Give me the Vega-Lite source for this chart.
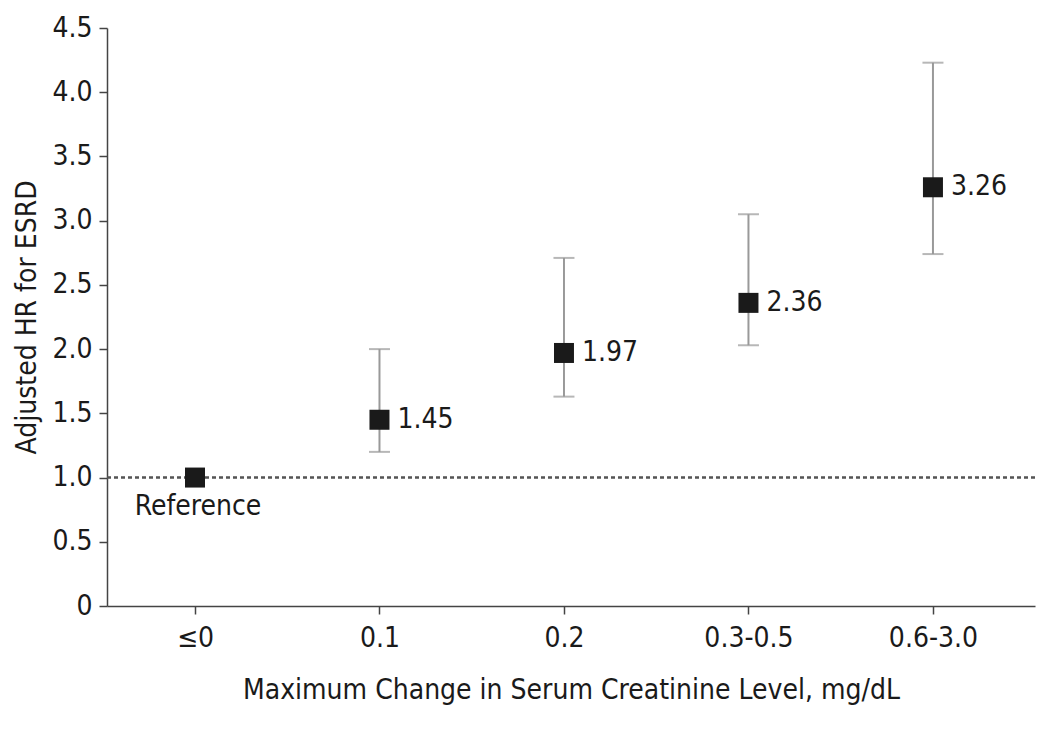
{
  "$schema": "https://vega.github.io/schema/vega-lite/v6.json",
  "width": 928,
  "height": 578,
  "autosize": {"type": "none"},
  "padding": {"left": 107, "top": 28, "right": 15, "bottom": 133},
  "background": "white",
  "config": {
    "view": {"stroke": null},
    "font": "DejaVu Sans Condensed, sans-serif",
    "axis": {
      "labelFont": "DejaVu Sans Condensed, sans-serif",
      "titleFont": "Liberation Sans Narrow, DejaVu Sans Condensed, sans-serif",
      "labelFontSize": 28,
      "titleFontSize": 28,
      "titleFontWeight": "normal",
      "labelColor": "#1a1a1a",
      "titleColor": "#1a1a1a",
      "domainColor": "#444",
      "tickColor": "#444",
      "domainWidth": 1.5,
      "tickWidth": 1.5,
      "tickSize": 8,
      "grid": false
    }
  },
  "data": {
    "values": [
      {"cat": "≤0", "hr": 1.0, "lo": null, "hi": null, "label": "Reference"},
      {"cat": "0.1", "hr": 1.45, "lo": 1.2, "hi": 2.0, "label": "1.45"},
      {"cat": "0.2", "hr": 1.97, "lo": 1.63, "hi": 2.71, "label": "1.97"},
      {"cat": "0.3-0.5", "hr": 2.36, "lo": 2.03, "hi": 3.05, "label": "2.36"},
      {"cat": "0.6-3.0", "hr": 3.26, "lo": 2.74, "hi": 4.23, "label": "3.26"}
    ]
  },
  "encoding": {
    "x": {
      "field": "cat",
      "type": "ordinal",
      "sort": ["≤0", "0.1", "0.2", "0.3-0.5", "0.6-3.0"],
      "scale": {"type": "point", "domain": ["≤0", "0.1", "0.2", "0.3-0.5", "0.6-3.0"], "padding": 0.515, "align": 0.463},
      "axis": {"title": "Maximum Change in Serum Creatinine Level, mg/dL", "labelAngle": 0, "labelPadding": 10, "titlePadding": 24}
    }
  },
  "layer": [
    {
      "mark": {"type": "rule", "color": "#555", "strokeDash": [4, 3], "strokeWidth": 1.5},
      "encoding": {
        "x": null,
        "y": {"datum": 1, "type": "quantitative"}
      }
    },
    {
      "mark": {"type": "rule", "color": "#999", "strokeWidth": 2},
      "encoding": {
        "y": {"field": "lo", "type": "quantitative"},
        "y2": {"field": "hi"}
      }
    },
    {
      "mark": {"type": "tick", "color": "#999", "size": 21, "thickness": 2, "orient": "horizontal"},
      "encoding": {"y": {"field": "lo", "type": "quantitative"}}
    },
    {
      "mark": {"type": "tick", "color": "#999", "size": 21, "thickness": 2, "orient": "horizontal"},
      "encoding": {"y": {"field": "hi", "type": "quantitative"}}
    },
    {
      "mark": {"type": "point", "shape": "square", "size": 400, "filled": true, "color": "#1a1a1a", "opacity": 1},
      "encoding": {
        "y": {
          "field": "hr",
          "type": "quantitative",
          "scale": {"domain": [0, 4.5], "nice": false},
          "axis": {
            "title": "Adjusted HR for ESRD",
            "values": [0, 0.5, 1, 1.5, 2, 2.5, 3, 3.5, 4, 4.5],
            "labelExpr": "datum.value == 0 ? '0' : format(datum.value, '.1f')",
            "labelPadding": 7,
            "titlePadding": 10
          }
        }
      }
    },
    {
      "transform": [{"filter": "datum.cat != '≤0'"}],
      "mark": {"type": "text", "align": "left", "baseline": "middle", "dx": 18, "fontSize": 28, "color": "#1a1a1a"},
      "encoding": {
        "y": {"field": "hr", "type": "quantitative"},
        "text": {"field": "label"}
      }
    },
    {
      "transform": [{"filter": "datum.cat == '≤0'"}],
      "mark": {"type": "text", "align": "center", "baseline": "middle", "dx": 3, "dy": 29, "fontSize": 28, "color": "#1a1a1a"},
      "encoding": {
        "y": {"field": "hr", "type": "quantitative"},
        "text": {"field": "label"}
      }
    }
  ]
}
